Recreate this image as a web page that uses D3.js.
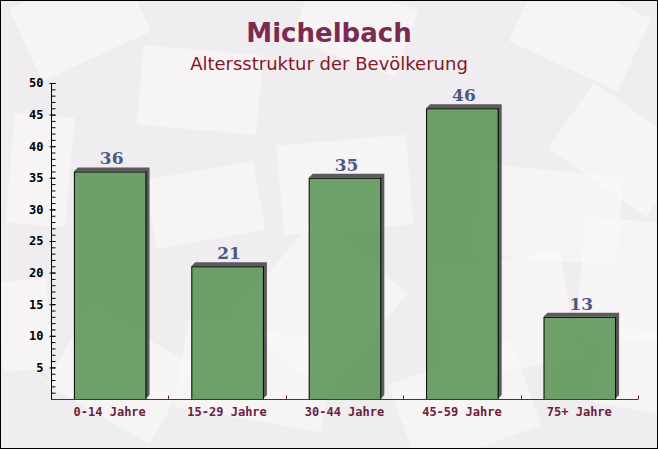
<!DOCTYPE html>
<html>
<head>
<meta charset="utf-8">
<script src="https://cdn.jsdelivr.net/npm/d3@7"></script>
<style>
  body { margin: 0; background: #fff; }
</style>
</head>
<body>
<script>
// Daten
var kategorien = ["0-14 Jahre", "15-29 Jahre", "30-44 Jahre", "45-59 Jahre", "75+ Jahre"];
var werte = [36, 21, 35, 46, 13];
var yTicks = [5, 10, 15, 20, 25, 30, 35, 40, 45, 50];

var titel = "Michelbach";
var untertitel = "Altersstruktur der Bevölkerung";

var breite = 658, hoehe = 449;
var margin = { top: 83, right: 20, bottom: 50, left: 51 },
    width = breite - margin.left - margin.right,
    height = hoehe - margin.top - margin.bottom;

var svg = d3.select("body")
    .append("svg")
    .attr("width", breite)
    .attr("height", hoehe);

// Hintergrund
svg.append("rect")
    .attr("width", breite)
    .attr("height", hoehe)
    .attr("fill", "#f0edf0");

// Briefumschlaege im Hintergrund (Deko)
var umschlaege = [
    [20, -20, 120, 80, -25], [140, 50, 120, 80, 5], [300, -10, 110, 70, 20],
    [520, -10, 120, 80, 25], [10, 115, 60, 110, 5], [280, 140, 130, 90, -5],
    [150, 170, 110, 70, -10], [480, 170, 140, 90, 5], [560, 110, 120, 80, 35],
    [260, 240, 120, 130, 40], [440, 260, 130, 110, -10], [60, 330, 120, 90, 30],
    [180, 330, 150, 90, 10], [580, 220, 90, 120, 5], [400, 360, 130, 90, -20],
    [600, 330, 80, 80, 10], [0, 280, 50, 90, -5]
];
svg.append("g")
    .selectAll("rect")
    .data(umschlaege)
    .enter()
    .append("rect")
    .attr("x", function(d) { return d[0]; })
    .attr("y", function(d) { return d[1]; })
    .attr("width", function(d) { return d[2]; })
    .attr("height", function(d) { return d[3]; })
    .attr("transform", function(d) {
        return "rotate(" + d[4] + "," + (d[0] + d[2] / 2) + "," + (d[1] + d[3] / 2) + ")";
    })
    .attr("fill", "#fbf8f8")
    .attr("opacity", 0.6);

// Rahmen
svg.append("rect")
    .attr("x", 0.5).attr("y", 0.5)
    .attr("width", breite - 1).attr("height", hoehe - 1)
    .attr("fill", "none")
    .attr("stroke", "#000");

// Titel
svg.append("text")
    .attr("x", breite / 2)
    .attr("y", 42)
    .attr("text-anchor", "middle")
    .style("font-family", "DejaVu Sans")
    .style("font-weight", "bold")
    .style("font-size", "26px")
    .style("fill", "#7b2a52")
    .text(titel);

svg.append("text")
    .attr("x", breite / 2)
    .attr("y", 70)
    .attr("text-anchor", "middle")
    .style("font-family", "DejaVu Sans")
    .style("font-size", "18px")
    .style("fill", "#8a1326")
    .text(untertitel);

var g = svg.append("g")
    .attr("transform", "translate(" + margin.left + "," + margin.top + ")");

var x = d3.scaleBand()
    .domain(kategorien)
    .range([0, width])
    .paddingInner(0.39)
    .paddingOuter(0.195);

var xGruppe = d3.scaleBand()
    .domain(kategorien)
    .range([0, width]);

var y = d3.scaleLinear()
    .domain([0, 50])
    .range([height, 0]);

// Balken mit Schatten
var dx = 4, dy = 4;
var balken = g.selectAll(".balken")
    .data(werte)
    .enter()
    .append("g")
    .attr("class", "balken");

balken.append("path")
    .attr("fill", "#5c5a5c")
    .attr("d", function(d, i) {
        var x0 = x(kategorien[i]), x1 = x0 + x.bandwidth(), yt = y(d);
        return "M" + (x0 + dx) + "," + (yt - dy) +
            "L" + (x1 + dx) + "," + (yt - dy) +
            "L" + (x1 + dx) + "," + (y(0) - dy) +
            "L" + x1 + "," + y(0) +
            "L" + x1 + "," + yt + "L" + x0 + "," + yt + "Z";
    });

balken.append("rect")
    .attr("x", function(d, i) { return x(kategorien[i]) + 0.5; })
    .attr("y", function(d) { return y(d) + 0.5; })
    .attr("width", x.bandwidth())
    .attr("height", function(d) { return y(0) - y(d); })
    .attr("fill", "#4f8f4a")
    .attr("fill-opacity", 0.82)
    .attr("stroke", "#000")
    .attr("stroke-width", 1);

// Werte
balken.append("text")
    .attr("x", function(d, i) { return x(kategorien[i]) + x.bandwidth() / 2 + 2; })
    .attr("y", function(d) { return y(d) - 7; })
    .attr("text-anchor", "middle")
    .style("font-family", "DejaVu Serif")
    .style("font-weight", "bold")
    .style("font-size", "17px")
    .style("fill", "#4e5886")
    .text(function(d) { return d; });

// Y-as
var yAs = g.append("g")
    .attr("transform", "translate(0.5,0)");
yAs.append("g")
    .call(d3.axisRight(y).tickValues(d3.range(1, 51)).tickSize(4).tickFormat(""))
    .call(function(s) { s.select(".domain").remove(); });
yAs.append("g")
    .call(d3.axisLeft(y).tickValues(yTicks).tickSize(2).tickPadding(6))
    .call(function(s) {
        s.select(".domain").attr("d", "M0," + y(50) + "V" + y(0));
        s.selectAll(".tick line").attr("x2", 4).attr("x1", -2);
        s.selectAll("text")
            .style("font-family", "DejaVu Sans Mono")
            .style("font-weight", "bold")
            .style("font-size", "12px")
            .style("fill", "#000");
    });

// X-as
var xAs = g.append("g")
    .attr("transform", "translate(0," + (height + 0.5) + ")");
xAs.append("line")
    .attr("x1", 0).attr("x2", width)
    .attr("stroke", "#6b2140");
xAs.selectAll(".grenze")
    .data(kategorien)
    .enter()
    .append("line")
    .attr("class", "grenze")
    .attr("x1", function(d) { return Math.round(xGruppe(d) + xGruppe.bandwidth()) + 0.5; })
    .attr("x2", function(d) { return Math.round(xGruppe(d) + xGruppe.bandwidth()) + 0.5; })
    .attr("y1", 0).attr("y2", -4)
    .attr("stroke", "#6b2140");
xAs.selectAll(".label")
    .data(kategorien)
    .enter()
    .append("text")
    .attr("x", function(d) { return x(d) + x.bandwidth() / 2; })
    .attr("y", 16)
    .attr("text-anchor", "middle")
    .style("font-family", "DejaVu Sans Mono")
    .style("font-weight", "bold")
    .style("font-size", "12px")
    .style("fill", "#6b2140")
    .text(function(d) { return d; });
</script>
</body>
</html>
